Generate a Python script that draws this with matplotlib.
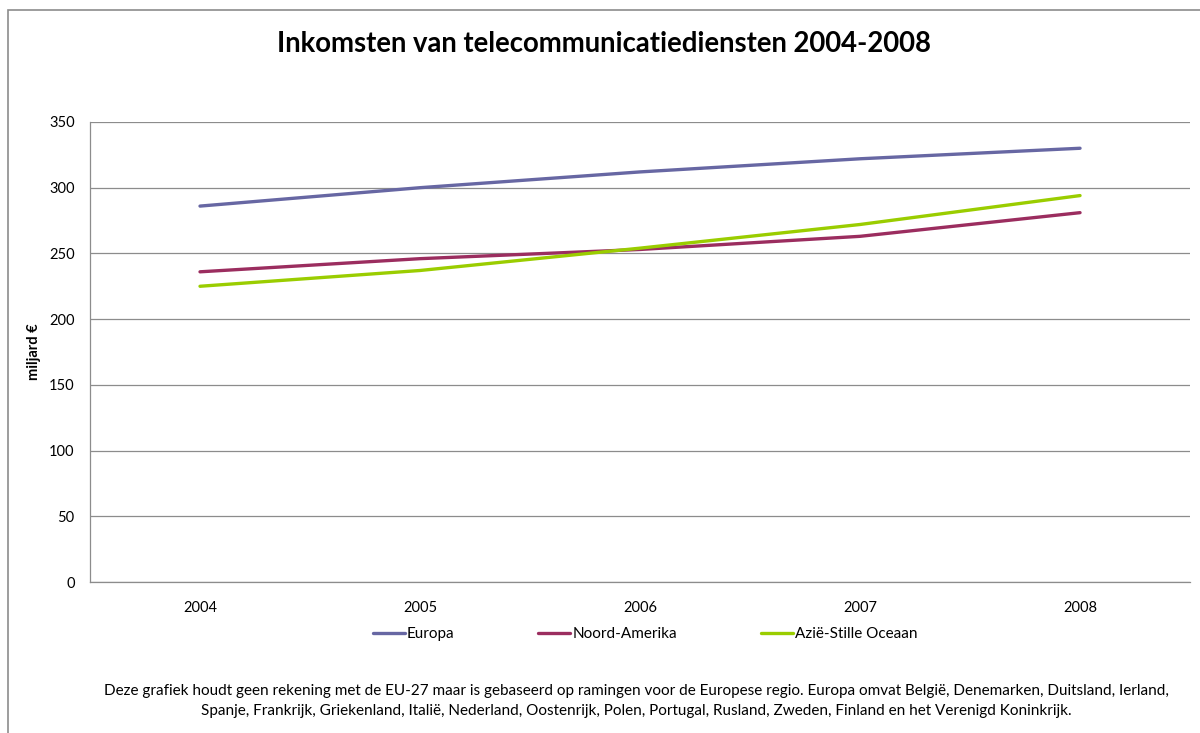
import numpy as np
import matplotlib
matplotlib.use('Agg')
import matplotlib.pyplot as plt
from matplotlib.patches import Rectangle

plt.rcParams['font.family'] = ['Lato', 'DejaVu Sans']

# Data (miljard euro)
years = ['2004', '2005', '2006', '2007', '2008']
europa = [286, 300, 312, 322, 330]
noord_amerika = [236, 246, 253, 263, 281]
azie = [225, 237, 254, 272, 294]

series_names = ['Europa', 'Noord-Amerika', 'Azië-Stille Oceaan']
colors = ['#6767A3', '#9B2D5F', '#9ACD00']

footnote = ('Deze grafiek houdt geen rekening met de EU-27 maar is gebaseerd op ramingen voor de Europese regio. '
            'Europa omvat België, Denemarken, Duitsland, Ierland,\n'
            'Spanje, Frankrijk, Griekenland, Italië, Nederland, Oostenrijk, Polen, Portugal, Rusland, Zweden, '
            'Finland en het Verenigd Koninkrijk.')

fig = plt.figure(figsize=(12, 7.33), dpi=100)
ax = fig.add_axes([0.075, 0.206, 0.9167, 0.6276])

x = np.arange(len(years))
for vals, name, col in zip([europa, noord_amerika, azie], series_names, colors):
    ax.plot(x, vals, color=col, lw=2.4, label=name, solid_capstyle='round')

ax.set_xlim(-0.5, len(years) - 0.5)
ax.set_ylim(0, 350)
ax.set_yticks(np.arange(0, 351, 50))
ax.set_xticks(x)
ax.set_xticklabels(years)
ax.grid(axis='y', color='#8c8c8c', lw=0.9)
ax.set_axisbelow(True)
ax.tick_params(length=0, labelsize=10.5, colors='black')
ax.tick_params(axis='x', pad=14)
ax.tick_params(axis='y', pad=11)
for s in ['top', 'right']:
    ax.spines[s].set_visible(False)
for s in ['left', 'bottom']:
    ax.spines[s].set_color('#8c8c8c')
    ax.spines[s].set_linewidth(0.9)
ax.set_ylabel('miljard €', fontsize=10.5, fontweight='bold', labelpad=6)

fig.text(0.503, 0.94, 'Inkomsten van telecommunicatiediensten 2004-2008',
         ha='center', va='center', fontsize=19.8, fontweight='bold')

fig.legend(loc='center', bbox_to_anchor=(0.5375, 0.135), ncol=3, frameon=False,
           fontsize=11, handlelength=2.1, handletextpad=0.12, columnspacing=5.5)

fig.text(0.53, 0.044, footnote, ha='center', va='center', fontsize=11, linespacing=1.55)

# outer chart border
fig.patches.append(Rectangle((0.0067, -0.01), 1.1, 0.997, transform=fig.transFigure,
                             fill=False, edgecolor='#8c8c8c', lw=1.2))

fig.savefig('out.png', dpi=100)
